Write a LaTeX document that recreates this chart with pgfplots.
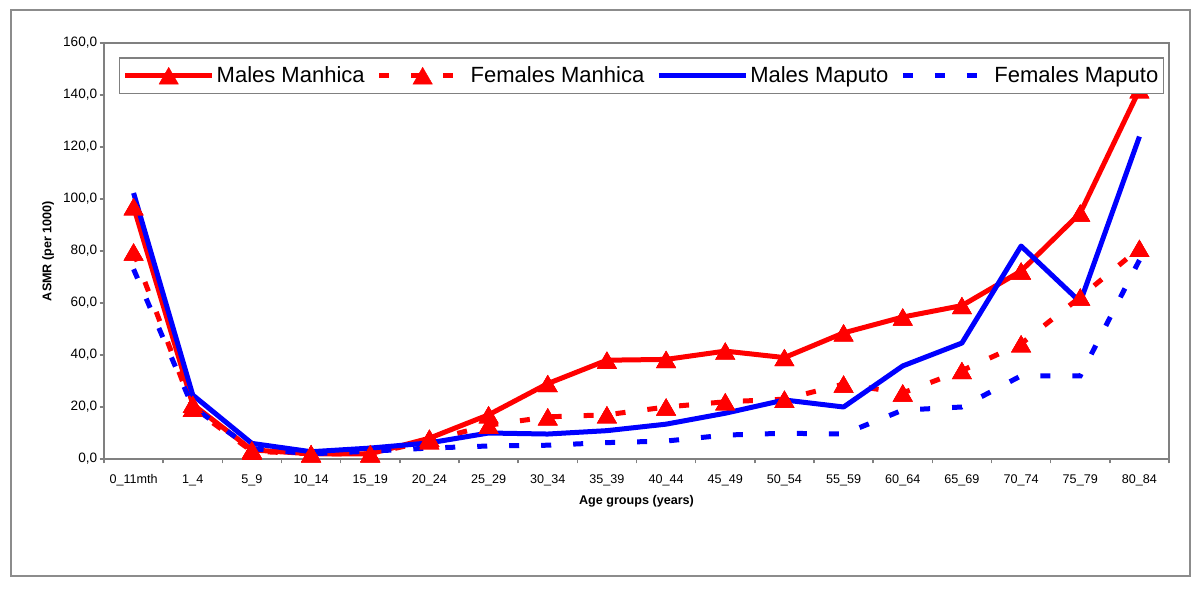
\documentclass[border=0pt]{standalone}
\usepackage{fontspec}
\setmainfont{Liberation Sans}
\usepackage{pgfplots}
\pgfplotsset{compat=1.18}
\usepackage{pgfplotstable}
\definecolor{axgray}{RGB}{128,128,128}
\definecolor{framegray}{RGB}{140,140,140}
\pgfplotstableread{
x mm fm mp fp
0 97 79.6 102.3 73
1 21 19.5 24.6 20
2 3.5 3 6 4
3 2 2 2.8 2
4 2 2 4.2 3
5 8 7 6.2 4.2
6 17 13 10 5
7 29 16.2 9.6 5.3
8 38 17 10.9 6.3
9 38.3 20 13.4 6.9
10 41.5 22 17.6 9.2
11 39 23 22.7 9.9
12 48.5 28.8 20 9.6
13 54.6 25.4 35.8 18.8
14 59 34 44.6 20
15 72.3 44.3 81.9 32
16 94.6 62.3 60.4 32
17 142 81 124 76.5
}\datatable
\begin{document}
\begin{tikzpicture}
\useasboundingbox (0,0) rectangle (600bp,300bp);
\fill[white] (0,0) rectangle (600bp,300bp);
\draw[framegray, line width=1bp] (5.5bp,12bp) rectangle (595bp,295bp);
\begin{axis}[
  at={(52bp,70.5bp)}, anchor=south west,
  scale only axis, width=532.5bp, height=208bp,
  xmin=-0.5, xmax=17.5, ymin=0, ymax=160,
  clip=false,
  axis line style={axgray, line width=0.7bp},
  xtick={0,...,17},
  xticklabels={0\_11mth,1\_4,5\_9,10\_14,15\_19,20\_24,25\_29,30\_34,35\_39,40\_44,45\_49,50\_54,55\_59,60\_64,65\_69,70\_74,75\_79,80\_84},
  minor xtick={-0.5,0.5,...,17.5},
  ytick={0,20,...,160},
  xtick pos=bottom, ytick pos=left,
  yticklabel={\pgfmathprintnumber[fixed,fixed zerofill,precision=1,use comma]{\tick}},
  /pgf/number format/assume math mode=true,
  tick align=outside,
  major x tick style={draw=none},
  minor x tick style={axgray, line width=0.7bp},
  major y tick style={axgray, line width=0.7bp},
  major tick length=2.2bp, minor tick length=2.2bp,
  xticklabel style={font=\fontsize{6.3bp}{7bp}\selectfont, yshift=-2bp},
  yticklabel style={font=\fontsize{6.8bp}{8bp}\selectfont, inner sep=0pt, xshift=-1bp},
  xlabel={\bfseries Age groups (years)},
  ylabel={\bfseries ASMR (per 1000)},
  every axis x label/.style={at={(axis description cs:0.5,0)}, yshift=-21bp, anchor=center, font=\fontsize{6.3bp}{7bp}\selectfont},
  every axis y label/.style={at={(axis description cs:0,0.5)}, xshift=-28bp, rotate=90, anchor=center, font=\fontsize{6.3bp}{7bp}\selectfont},
  legend columns=4,
  legend image code/.code={\draw[mark repeat=2,mark phase=2,#1] plot coordinates {(0bp,0bp) (21.75bp,0bp) (43.5bp,0bp)};},
  legend style={at={(axis description cs:0.0141,0.966)}, anchor=north west,
    draw=axgray, line width=0.7bp, inner xsep=1.5bp, inner ysep=2bp,
    font=\fontsize{11bp}{13bp}\selectfont,
    nodes={inner xsep=1bp, inner ysep=2.2bp},
    /tikz/every even column/.append style={column sep=5bp}},
  legend cell align=left,
]
\addplot[red, line width=2.5bp, line join=round, mark=triangle*, mark size=5.6bp, mark options={solid, fill=red, draw=red, line width=0.2bp, yshift=-1.4bp}] table[x=x,y=mm] {\datatable};
\addlegendentry{Males Manhica}
\addplot[red, line width=2.5bp, dash pattern=on 5bp off 11bp, mark=triangle*, mark size=5.6bp, mark options={solid, fill=red, draw=red, line width=0.2bp, yshift=-1.4bp}] table[x=x,y=fm] {\datatable};
\addlegendentry{Females Manhica}
\addplot[blue, line width=2.5bp, line join=round, no marks] table[x=x,y=mp] {\datatable};
\addlegendentry{Males Maputo}
\addplot[blue, line width=2.5bp, dash pattern=on 5bp off 11bp, no marks] table[x=x,y=fp] {\datatable};
\addlegendentry{Females Maputo\hspace{4.5bp}}
\addplot[forget plot, only marks, red, mark=triangle*, mark size=5.6bp, mark options={solid, fill=red, draw=red, line width=0.2bp, yshift=-1.4bp}] table[x=x,y=mm] {\datatable};
\addplot[forget plot, only marks, red, mark=triangle*, mark size=5.6bp, mark options={solid, fill=red, draw=red, line width=0.2bp, yshift=-1.4bp}] table[x=x,y=fm] {\datatable};
\end{axis}
\end{tikzpicture}
\end{document}
